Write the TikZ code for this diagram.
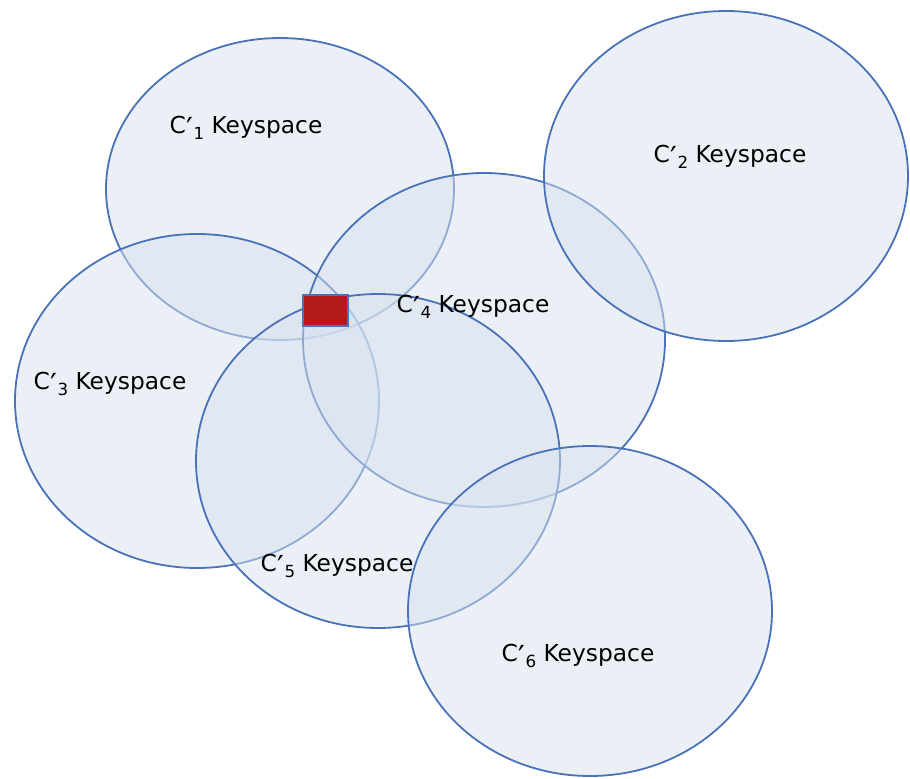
\documentclass[tikz,border=0pt]{standalone}
\usepackage{fontspec}
\setmainfont{DejaVu Sans}
\definecolor{edge}{HTML}{4A72B8}
\definecolor{ksfill}{HTML}{D7E1EE}
\definecolor{keyred}{HTML}{B31B1B}
\newcommand{\ksub}[1]{\raisebox{-0.45ex}{\fontsize{12.5}{12.5}\selectfont #1}}
\newcommand{\kprime}{\kern0.03em\raisebox{-0.45ex}{\scalebox{1.3}{′}}}
\begin{document}
\begin{tikzpicture}[x=0.75pt,y=-0.75pt,
  keyspace/.style={draw=edge,line width=1.35pt,fill=ksfill,fill opacity=0.5,draw opacity=1},
  lbl/.style={font=\fontsize{17.5}{20}\selectfont,text=black,inner sep=0pt},
  redbox/.style={draw=edge,line width=1.1pt,fill=keyred,minimum width=33.75pt,minimum height=23.25pt,inner sep=0pt}]
\useasboundingbox (0,0) rectangle (910,778);
\filldraw[keyspace] (280,189) ellipse [x radius=174, y radius=151];
\filldraw[keyspace] (197,401) ellipse [x radius=182, y radius=167];
\filldraw[keyspace] (484,340) ellipse [x radius=181, y radius=167];
\filldraw[keyspace] (726,176) ellipse [x radius=182, y radius=165];
\filldraw[keyspace] (378,461) ellipse [x radius=182, y radius=167];
\filldraw[keyspace] (590,611) ellipse [x radius=182, y radius=165];
\node[redbox] (key) at (325.5,310.5) {};
\node[lbl] (l1) at (246,128) {C\kprime\ksub{1} Keyspace};
\node[lbl] (l2) at (730,157) {C\kprime\ksub{2} Keyspace};
\node[lbl] (l3) at (110,384) {C\kprime\ksub{3} Keyspace};
\node[lbl] (l4) at (473,307) {C\kprime\ksub{4} Keyspace};
\node[lbl] (l5) at (337,566) {C\kprime\ksub{5} Keyspace};
\node[lbl] (l6) at (578,656) {C\kprime\ksub{6} Keyspace};
\end{tikzpicture}
\end{document}
